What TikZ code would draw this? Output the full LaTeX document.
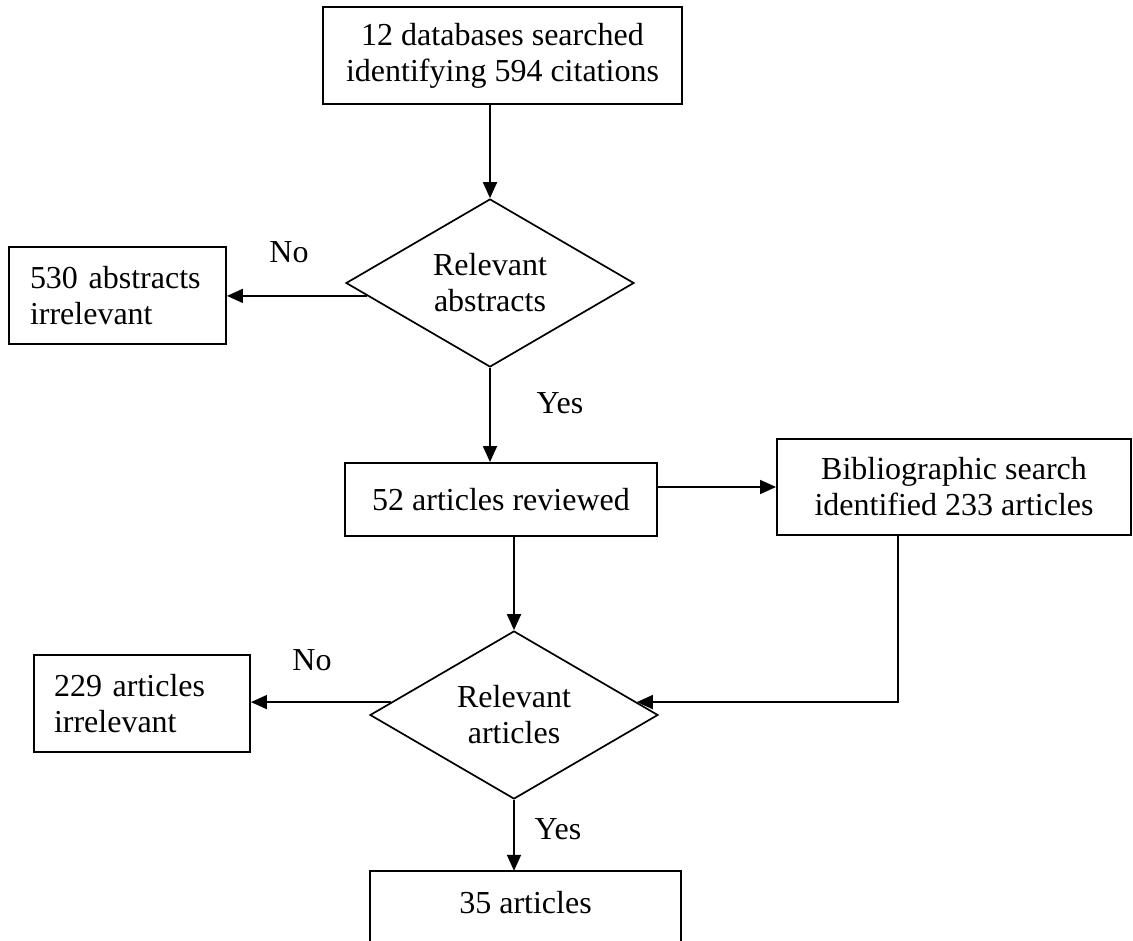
\documentclass[tikz,border=0pt]{standalone}
\usepackage{fontspec}
\setmainfont{Liberation Serif}
\usetikzlibrary{shapes.geometric,arrows.meta}
\begin{document}
\begin{tikzpicture}[x=1pt,y=-1pt,
  every node/.style={font=\fontsize{32}{36}\selectfont},
  box/.style={draw, line width=1.9pt, rectangle, inner sep=0pt, align=center},
  lbox/.style={draw, line width=1.9pt, rectangle, inner ysep=0pt, align=left},
  dec/.style={draw, line width=1.7pt, diamond, aspect=1.714, minimum width=288pt, minimum height=168pt, inner sep=0pt, align=center},
  arr/.style={line width=1.8pt, -{Triangle[length=16pt,width=14pt]}},
  conn/.style={line width=1.9pt},
  lab/.style={inner sep=0pt}]
\useasboundingbox (0,0) rectangle (1133,941);
\clip (0,0) rectangle (1133,941);

\node[box, minimum width=359pt, minimum height=97pt] (top) at (502.5,55.5) {12 databases searched\\identifying 594 citations};
\node[dec] (d1) at (490,283) {Relevant\\abstracts};
\node[lbox, text width=175pt, inner xsep=21pt, minimum height=97pt] (a530) at (117.5,295.5) {530 abstracts\\irrelevant};
\node[box, minimum width=312pt, minimum height=73pt] (b52) at (501,499.5) {52 articles reviewed};
\node[box, minimum width=354pt, minimum height=96pt] (bib) at (954,487) {Bibliographic search\\identified 233 articles};
\node[dec] (d2) at (514,715) {Relevant\\articles};
\node[lbox, text width=176pt, inner xsep=20pt, minimum height=97pt] (a229) at (142,703.5) {229 articles\\irrelevant};
\node[minimum width=311pt, minimum height=64pt, inner sep=0pt] (b35) at (525.5,903) {35 articles};

\node[lab] (no1) at (289,252) {No};
\node[lab] (yes1) at (560,403) {Yes};
\node[lab] (no2) at (312,660) {No};
\node[lab] (yes2) at (558,829) {Yes};

\draw[arr] (d1.north |- top.south) -- (d1.north);
\draw[arr] (d1.186) -- (d1.186 -| a530.east);
\draw[arr] (d1.south) -- (d1.south |- b52.north);
\draw[arr] (b52.east |- bib.west) -- (bib.west);
\draw[arr] (d2.north |- b52.south) -- (d2.north);
\coordinate (c1) at (898,600);
\draw[arr] (bib.south -| c1) |- (d2.6);
\draw[arr] (d2.174) -- (d2.174 -| a229.east);
\draw[arr] (d2.south) -- (d2.south |- b35.north);
\draw[conn] ([yshift=-30pt]b35.south west) -- (b35.north west) -- (b35.north east) -- ([yshift=-30pt]b35.south east);
\end{tikzpicture}
\end{document}
